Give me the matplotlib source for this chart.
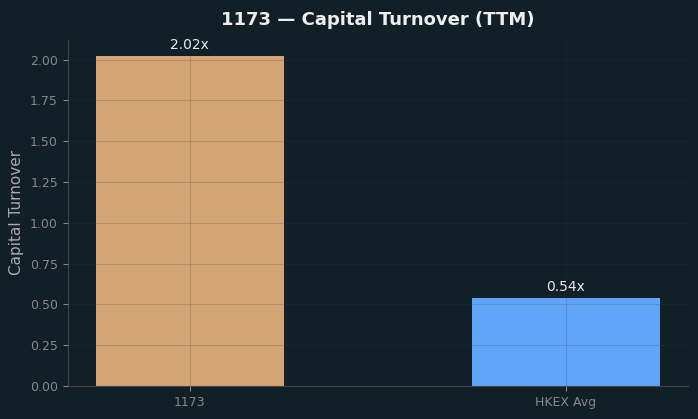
import matplotlib
matplotlib.use("Agg")
import matplotlib.pyplot as plt

categories = ["1173", "HKEX Avg"]
values = [2.02, 0.54]
labels = ["2.02x", "0.54x"]
colors = ["#d4a574", "#60a5fa"]

bg = "#111f27"
fig, ax = plt.subplots(figsize=(6.98, 4.19), dpi=100)
fig.patch.set_facecolor(bg)
ax.set_facecolor(bg)

bars = ax.bar(categories, values, width=0.5, color=colors)
for b, lab in zip(bars, labels):
    ax.annotate(lab, (b.get_x() + b.get_width() / 2, b.get_height()),
                xytext=(0, 3), textcoords="offset points",
                ha="center", va="bottom", color="#e8e8e8", fontsize=10)

ax.set_title("1173 — Capital Turnover (TTM)", color="#eeeeee", fontsize=13,
             fontweight="bold", pad=11)
ax.set_ylabel("Capital Turnover", color="#aaaaaa", fontsize=11)
ax.tick_params(colors="#888888", labelsize=9)
for s in ["top", "right"]:
    ax.spines[s].set_visible(False)
for s in ["left", "bottom"]:
    ax.spines[s].set_color("#444444")
ax.grid(True, color="#3a3f44", alpha=0.2, linewidth=0.8)
ax.set_axisbelow(False)

fig.subplots_adjust(left=0.097, right=0.986, top=0.905, bottom=0.079)
fig.savefig("out.png", dpi=100, facecolor=bg)
